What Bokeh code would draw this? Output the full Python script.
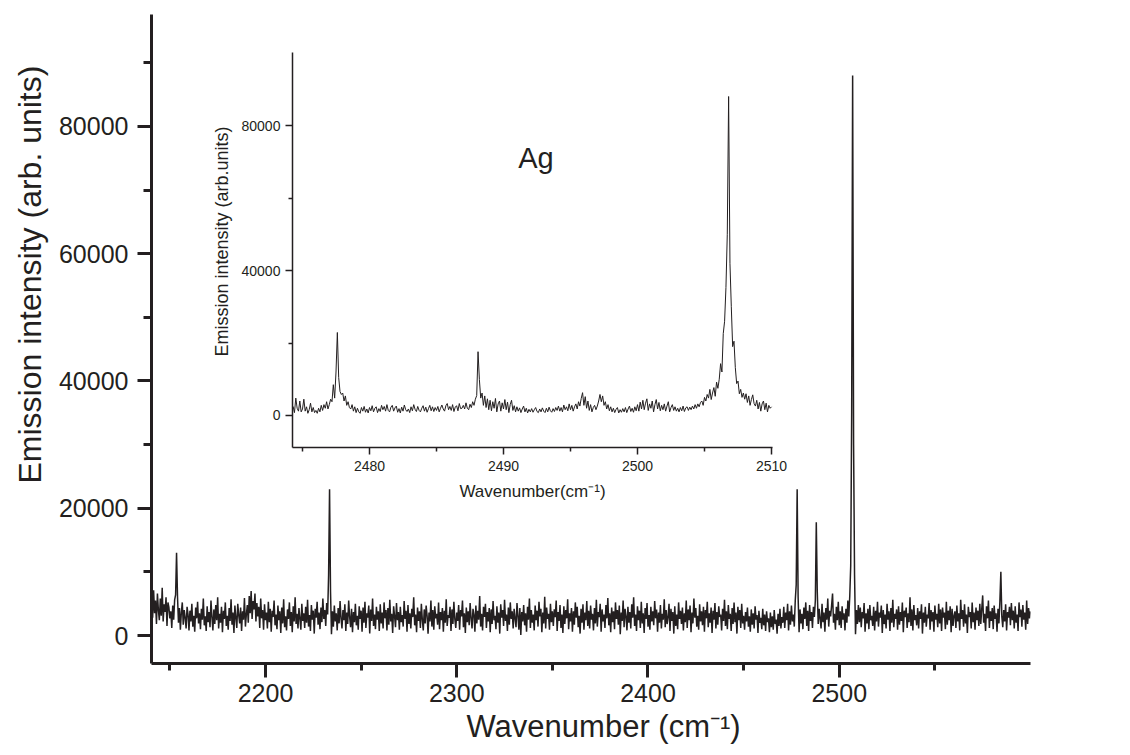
import numpy as np
from bokeh.plotting import figure
from bokeh.models import LinearAxis, Range1d, FixedTicker, Label, Title
from bokeh.core.properties import value
from bokeh.embed import file_html
from bokeh.resources import INLINE

# ---------------- data ----------------
# Main spectrum: wavenumber grid start / step (cm^-1), intensities in hundreds of counts
main_start = 2140.5
main_step = 0.5
main_vals = [
    62, 28, 71, 35, 55, 18, 66, 40, 24, 58, 31, 75, 22, 49, 37, 60, 15, 52, 44, 27,
    38, 12, 47, 25, 56, 64, 130, 61, 20, 43, 9, 36, 52, 17, 40, 28, 11, 45, 33, 8,
    39, 22, 50, 14, 31, 6, 44, 27, 53, 19, 35, 10, 42, 25, 58, 16, 30, 7, 46, 21,
    37, 13, 55, 29, 8, 41, 18, 48, 24, 60, 11, 34, 20, 45, 5, 39, 26, 52, 15, 31,
    9, 43, 23, 57, 17, 36, 4, 47, 28, 12, 50, 32, 19, 44, 7, 38, 25, 59, 14, 33,
    48, 20, 62, 35, 70, 26, 54, 41, 66, 22, 51, 30, 45, 12, 58, 27, 40, 9, 49, 24,
    36, 11, 53, 21, 42, 6, 39, 29, 55, 16, 33, 10, 47, 24, 38, 4, 44, 19, 57, 13,
    30, 8, 41, 26, 52, 15, 37, 5, 46, 22, 60, 18, 34, 11, 43, 27, 9, 50, 23, 35,
    12, 45, 20, 56, 14, 32, 7, 48, 25, 39, 3, 42, 28, 53, 17, 36, 10, 44, 21, 58,
    26, 40, 15, 51, 33, 95, 230, 70, 2, 38, 14, 47, 22, 35, 8, 43, 19, 54, 27, 11,
    40, 24, 49, 7, 36, 18, 55, 29, 13, 42, 5, 37, 21, 50, 16, 31, 9, 46, 26, 39,
    6, 44, 20, 53, 12, 35, 28, 47, 3, 41, 23, 58, 15, 33, 10, 45, 25, 38, 7, 49,
    19, 36, 11, 52, 27, 40, 8, 43, 17, 56, 22, 34, 4, 46, 30, 13, 51, 24, 37, 9,
    45, 21, 32, 14, 54, 26, 39, 6, 48, 18, 35, 11, 42, 29, 60, 16, 33, 5, 44, 23,
    38, 12, 50, 25, 8, 41, 19, 47, 31, 3, 36, 22, 55, 14, 40, 9, 46, 27, 34, 17,
    52, 10, 37, 24, 43, 6, 39, 20, 57, 15, 32, 28, 45, 7, 41, 18, 53, 26, 12, 36,
    23, 48, 9, 40, 30, 55, 13, 35, 4, 44, 21, 38, 16, 51, 27, 11, 42, 33, 6, 47,
    19, 39, 25, 62, 14, 34, 8, 45, 29, 50, 12, 37, 22, 43, 5, 41, 18, 54, 24, 31,
    10, 46, 20, 36, 3, 49, 28, 40, 15, 56, 23, 33, 7, 44, 17, 52, 26, 38, 11, 42,
    27, 13, 51, 31, 9, 43, 1, 37, 22, 48, 16, 35, 6, 45, 25, 58, 12, 40, 20, 33,
    8, 47, 24, 39, 14, 53, 30, 42, 5, 36, 19, 61, 11, 44, 26, 34, 9, 50, 21, 38,
    15, 41, 29, 55, 7, 37, 23, 48, 12, 33, 4, 46, 18, 40, 27, 57, 10, 35, 22, 43,
    6, 38, 17, 52, 28, 45, 13, 31, 3, 42, 20, 49, 9, 36, 24, 54, 15, 39, 11, 47,
    25, 34, 8, 43, 19, 56, 14, 37, 29, 50, 6, 41, 22, 33, 12, 48, 27, 59, 16, 35,
    5, 44, 21, 38, 10, 52, 26, 40, 17, 47, 2, 36, 23, 55, 13, 42, 30, 8, 45, 20,
    37, 11, 49, 28, 60, 15, 33, 7, 46, 24, 39, 12, 53, 19, 35, 4, 43, 26, 51, 14,
    32, 9, 45, 22, 38, 16, 54, 27, 41, 6, 36, 20, 48, 11, 34, 25, 57, 13, 40, 18,
    29, 50, 7, 42, 23, 37, 3, 46, 15, 33, 10, 52, 26, 39, 18, 44, 8, 35, 21, 55,
    12, 41, 24, 47, 5, 36, 19, 58, 28, 43, 14, 31, 9, 49, 22, 38, 16, 45, 6, 40,
    27, 53, 13, 35, 20, 44, 4, 39, 25, 51, 11, 37, 17, 46, 29, 33, 8, 42, 23, 56,
    15, 38, 10, 48, 26, 34, 7, 43, 18, 52, 21, 36, 3, 45, 24, 40, 12, 50, 19, 31,
    9, 37, 22, 44, 14, 30, 6, 41, 17, 35, 11, 46, 25, 32, 4, 39, 20, 28, 10, 42,
    16, 33, 7, 38, 21, 27, 5, 36, 13, 30, 9, 40, 18, 25, 3, 34, 15, 42, 11, 29,
    20, 45, 12, 36, 24, 50, 8, 38, 17, 47, 22, 33, 14, 55, 80, 230, 60, 5, 41, 19,
    34, 10, 44, 26, 52, 15, 39, 7, 48, 23, 37, 12, 45, 29, 55, 178, 70, 18, 42, 27,
    11, 50, 21, 36, 6, 43, 25, 58, 14, 39, 30, 47, 66, 20, 34, 9, 45, 24, 53, 16,
    38, 12, 46, 25, 35, 8, 42, 20, 55, 30, 62, 110, 350, 880, 300, 95, 2, 40, 18, 48,
    21, 44, 13, 37, 27, 51, 6, 35, 19, 42, 10, 48, 24, 31, 15, 45, 8, 39, 22, 53,
    14, 36, 28, 47, 4, 40, 18, 33, 11, 50, 25, 38, 7, 43, 20, 56, 13, 34, 26, 41,
    9, 46, 17, 37, 23, 52, 5, 39, 29, 44, 12, 35, 21, 60, 15, 41, 8, 48, 24, 32,
    16, 43, 11, 38, 26, 49, 3, 36, 20, 45, 14, 33, 27, 51, 9, 40, 22, 37, 6, 47,
    25, 34, 13, 50, 19, 41, 7, 44, 28, 36, 10, 53, 17, 39, 24, 46, 5, 42, 15, 31,
    38, 12, 47, 22, 35, 8, 56, 26, 40, 14, 49, 19, 33, 4, 45, 29, 37, 11, 52, 21,
    36, 9, 44, 24, 39, 15, 50, 18, 41, 63, 20, 34, 7, 46, 27, 55, 12, 38, 23, 43,
    10, 47, 26, 35, 6, 42, 19, 54, 100, 30, 13, 40, 22, 49, 8, 37, 28, 45, 16, 51,
    24, 39, 11, 46, 20, 33, 7, 52, 29, 41, 14, 48, 25, 36, 9, 55, 18, 43, 27, 38,
]

# Inset (Ag): wavenumber grid start / step, intensities in hundreds of counts
inset_start = 2474.3
inset_step = 0.1
inset_vals = [
    25, 8, 48, 20, 12, 40, 10,
    18, 45, 12, 24, 6, 16, 34, 10, 22, 8,
    14, 6, 20, 10, 28, 14, 30, 20, 38, 18,
    30, 45, 38, 85, 48, 120, 229, 105, 66, 58,
    62, 40, 54, 28, 38, 22, 18, 30, 12, 24,
    8, 20, 10, 6, 22, 12, 25, 9, 18, 7,
    22, 13, 27, 10, 20, 24, 8, 19, 11, 28,
    16, 25, 12, 30, 14, 10, 23, 28, 12, 21,
    26, 9, 19, 7, 23, 12, 29, 16, 11, 18,
    8, 24, 13, 30, 17, 11, 25, 14, 10, 20,
    27, 12, 23, 9, 19, 28, 13, 24, 11, 22,
    14, 25, 10, 20, 29, 18, 12, 27, 33, 16,
    25, 14, 30, 11, 23, 27, 13, 33, 19, 20,
    28, 18, 35, 20, 16, 31, 22, 38, 28, 45,
    55, 176, 99, 48, 62, 28, 54, 22, 46, 16,
    42, 13, 38, 20, 47, 10, 32, 40, 12, 35,
    18, 44, 16, 37, 8, 30, 42, 14, 27, 10,
    24, 12, 21, 8, 18, 26, 10, 20, 7, 17,
    10, 19, 9, 16, 22, 11, 8, 18, 10, 21,
    12, 8, 20, 10, 23, 13, 9, 19, 11, 22,
    14, 26, 12, 22, 10, 29, 16, 24, 13, 32,
    16, 28, 12, 24, 32, 18, 38, 26, 47, 63,
    28, 52, 20, 40, 14, 30, 10, 22, 28, 16,
    26, 40, 58, 38, 54, 28, 38, 18, 30, 13,
    24, 10, 20, 8, 17, 22, 7, 16, 9, 19,
    10, 22, 8, 18, 26, 11, 20, 9, 24, 13,
    30, 12, 37, 18, 42, 16, 34, 46, 14, 32,
    20, 40, 10, 30, 44, 18, 36, 13, 28, 16,
    32, 12, 26, 38, 10, 22, 30, 14, 24, 12,
    20, 10, 22, 13, 26, 11, 21, 24, 14, 23,
    16, 26, 18, 30, 20, 32, 24, 36, 40, 28,
    50, 40, 58, 48, 72, 44, 62, 77, 53, 92,
    75, 100, 143, 120, 226, 260, 353, 500, 880, 420,
    300, 190, 205, 132, 88, 95, 60, 72, 50, 62,
    45, 60, 36, 54, 28, 44, 57, 33, 26, 42,
    18, 36, 12, 32, 40, 16, 34, 10, 28, 20,
    24,
]

main_xticks = [2200, 2300, 2400, 2500]
main_xminor = [2150, 2250, 2350, 2450, 2550]
main_yticks = [0, 20000, 40000, 60000, 80000]
main_yminor = [10000, 30000, 50000, 70000, 90000]
inset_xticks = [2480, 2490, 2500, 2510]
inset_xminor = [2475, 2485, 2495, 2505]
inset_yticks = [0, 40000, 80000]
inset_yminor = [20000, 60000]

main_x = main_start + main_step * np.arange(len(main_vals))
main_y = np.array(main_vals) * 100.0
inset_x = inset_start + inset_step * np.arange(len(inset_vals))
inset_y = np.array(inset_vals) * 100.0

INK = "#231F20"
FONT = "Liberation Sans"

p = figure(width=1130, height=755, output_backend="svg", toolbar_location=None,
           x_range=Range1d(2140.4, 2600.0), y_range=Range1d(-4400, 97600),
           min_border_left=151, min_border_right=100, min_border_top=14,
           min_border_bottom=92, x_axis_type=None, y_axis_type=None)
p.outline_line_color = None
p.background_fill_color = "white"
p.border_fill_color = "white"

# inset coordinate system mapped over the same frame
p.extra_x_ranges = {"ix": Range1d(2463.731, 2529.328)}
p.extra_y_ranges = {"iy": Range1d(-68414, 110621)}


def style_axis(ax, lw, tick_out, minor_out, tick_fs, label_fs, tick_standoff, label_standoff):
    ax.axis_line_width = lw
    ax.axis_line_color = INK
    ax.major_tick_line_width = lw
    ax.minor_tick_line_width = lw
    ax.major_tick_line_color = INK
    ax.minor_tick_line_color = INK
    ax.major_tick_in = 0
    ax.minor_tick_in = 0
    ax.major_tick_out = tick_out
    ax.minor_tick_out = minor_out
    ax.major_label_text_font = FONT
    ax.major_label_text_font_size = tick_fs
    ax.major_label_text_color = INK
    ax.major_label_standoff = tick_standoff
    ax.axis_label_text_font = FONT
    ax.axis_label_text_font_size = label_fs
    ax.axis_label_text_font_style = "normal"
    ax.axis_label_text_color = INK
    ax.axis_label_standoff = label_standoff


# main axes (ticks and tick labels)
xax = LinearAxis(ticker=FixedTicker(ticks=main_xticks, minor_ticks=main_xminor))
style_axis(xax, 3, 14, 7, "25px", "30px", 6, 6)
p.add_layout(xax, "below")

yax = LinearAxis(ticker=FixedTicker(ticks=main_yticks, minor_ticks=main_yminor))
style_axis(yax, 3, 14, 8, "25px", "32px", 9, 15)
p.add_layout(yax, "left")

# main axis titles, offset along the axis as in the original
xtitle = Title(text="Wavenumber (cm\u207b\u00b9)", align="left", offset=315,
               standoff=4, text_font=FONT, text_font_size="31px",
               text_font_style="normal", text_color=INK)
p.add_layout(xtitle, "below")

ytitle = Title(text="Emission intensity (arb. units)", align="left", offset=180,
               standoff=16, text_font=FONT, text_font_size="32px",
               text_font_style="normal", text_color=INK)
p.add_layout(ytitle, "left")

# main spectrum
p.line(main_x, main_y, line_color=INK, line_width=1.5)

# inset axes (drawn at fixed locations within the frame)
ixax = LinearAxis(x_range_name="ix", y_range_name="iy", fixed_location=-8830,
                  bounds=(2474.25, 2510.07),
                  ticker=FixedTicker(ticks=inset_xticks, minor_ticks=inset_xminor),
                  axis_label="Wavenumber(cm\u207b\u00b9)")
style_axis(ixax, 1.5, 7, 4, "14px", "17px", 6, 8)
p.add_layout(ixax, "below")

iyax = LinearAxis(x_range_name="ix", y_range_name="iy", fixed_location=2474.25,
                  bounds=(-8830, 100140),
                  ticker=FixedTicker(ticks=inset_yticks, minor_ticks=inset_yminor))
style_axis(iyax, 1.5, 7, 4, "14px", "17px", 5, 8)
p.add_layout(iyax, "left")

p.add_layout(Label(x=2469.0, y=48000, x_range_name="ix", y_range_name="iy",
                   text="Emission intensity (arb.units)", angle=np.pi / 2,
                   text_font=FONT, text_font_size="18px", text_color=INK,
                   text_align="center", text_baseline="middle"))

# inset spectrum
p.line(inset_x, inset_y, x_range_name="ix", y_range_name="iy",
       line_color=INK, line_width=1)

p.text(x=[2491.1], y=[70900], text=["Ag"], x_range_name="ix", y_range_name="iy",
       text_font=value(FONT), text_font_size="29px", text_color=INK,
       text_baseline="alphabetic", text_align="left")

open("out.html", "w").write(file_html(p, INLINE))
